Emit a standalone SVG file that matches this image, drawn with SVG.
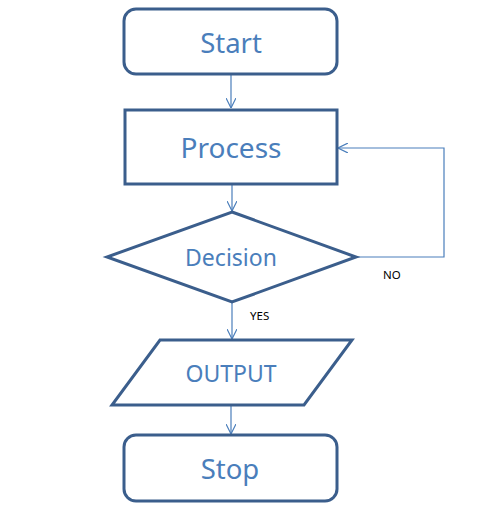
<svg xmlns="http://www.w3.org/2000/svg" width="490" height="520" viewBox="0 0 490 520">
<style>
.node{fill:#fff;stroke:#3b5e8c;stroke-width:3}
.lbl{font-family:"Noto Sans","Liberation Sans",sans-serif;fill:#4a7ebb;text-anchor:middle;dominant-baseline:central}
.edge{fill:none;stroke:#4a7ebb;stroke-width:1.2}
.small{font-family:"Noto Sans","Liberation Sans",sans-serif;font-size:11.5px;fill:#000}
</style>
<defs>
<marker id="arr" viewBox="0 0 10 10" refX="10" refY="5" markerWidth="10" markerHeight="10" markerUnits="userSpaceOnUse" orient="auto">
<path d="M0,0 L10,5 L0,10" fill="none" stroke="#4a7ebb" stroke-width="1.2"/>
</marker>
</defs>
<rect width="490" height="520" fill="#fff"/>
<g id="connectors">
<path class="edge" d="M231,74 V108" marker-end="url(#arr)"/>
<path class="edge" d="M232,184 V211" marker-end="url(#arr)"/>
<path class="edge" d="M356,257 H444 V148 H338" marker-end="url(#arr)"/>
<path class="edge" d="M232,302 V339" marker-end="url(#arr)"/>
<path class="edge" d="M231,405 V434" marker-end="url(#arr)"/>
</g>
<g id="start">
<rect class="node" x="124" y="9" width="213" height="65" rx="12"/>
<text class="lbl" x="231" y="42" font-size="27.5">Start</text>
</g>
<g id="process">
<rect class="node" x="125" y="110" width="212" height="74"/>
<text class="lbl" x="231" y="147" font-size="28">Process</text>
</g>
<g id="decision">
<polygon class="node" points="232,212 356,257 232,302 107,257"/>
<text class="lbl" x="231" y="257" font-size="23">Decision</text>
</g>
<g id="output">
<polygon class="node" points="160,340 352,340 304,405 112,405"/>
<text class="lbl" x="231" y="373" font-size="23">OUTPUT</text>
</g>
<g id="stop">
<rect class="node" x="124" y="435" width="213" height="66" rx="12"/>
<text class="lbl" x="230" y="468" font-size="27.5">Stop</text>
</g>
<text class="small" x="383" y="279">NO</text>
<text class="small" x="250" y="320">YES</text>
</svg>
